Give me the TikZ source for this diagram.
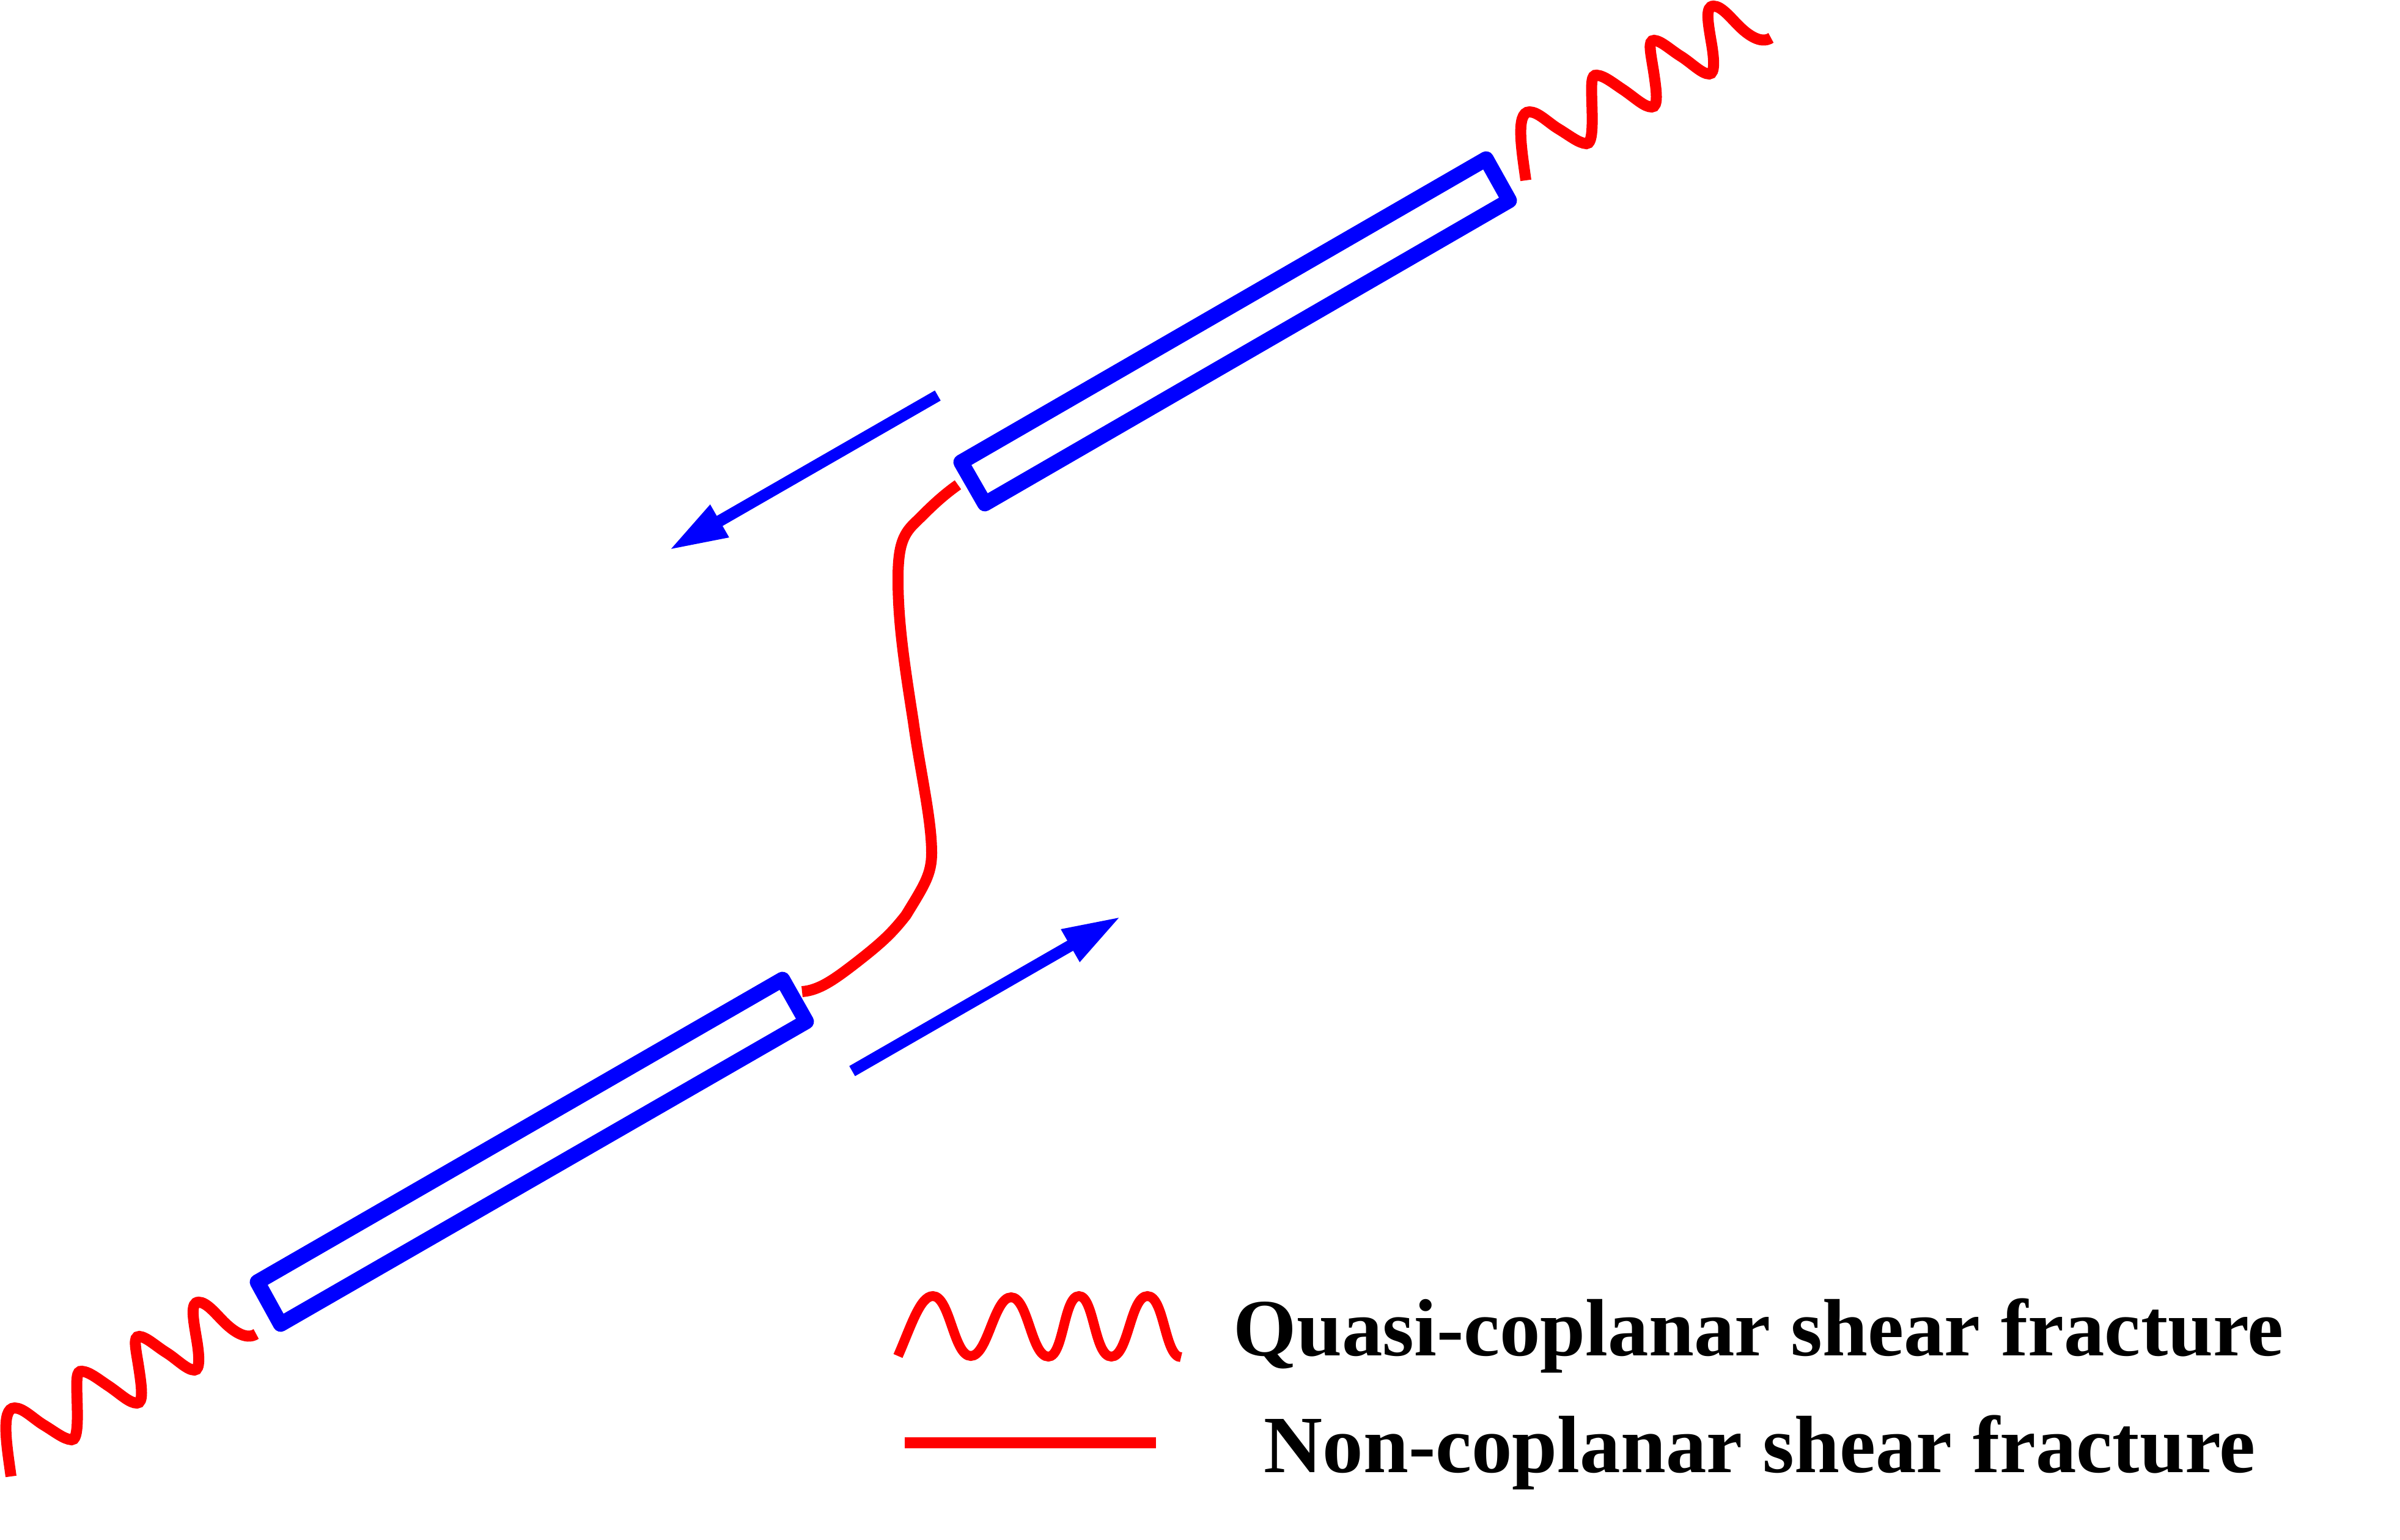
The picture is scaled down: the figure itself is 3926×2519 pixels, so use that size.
\documentclass[tikz,border=0pt]{standalone}
\usepackage{fontspec}
\setmainfont{Liberation Serif}
\usetikzlibrary{arrows.meta}
\tikzset{
    band/.style={draw=blue,line width=0.25cm,line join=round},
    slipdir/.style={draw=blue,line width=0.19cm,-{Triangle[length=0.96cm,width=0.56cm]}},
    quasi/.style={draw=red,line width=0.18cm},
    noncop/.style={draw=red,line width=0.18cm},
    legendtext/.style={inner sep=0pt,font=\fontsize{37.8}{40}\selectfont\bfseries},
}
% One wavy fracture, four crests
\newcommand{\quasiwave}{(2496,295)
    .. controls (2490,250) and (2478,183) .. (2502,183)
    .. controls (2516,183) and (2532,200) .. (2548,210)
    .. controls (2568,222) and (2582,234) .. (2595,235)
    .. controls (2606,236) and (2605,200) .. (2604,167)
    .. controls (2603,135) and (2603,122) .. (2612,123)
    .. controls (2625,124) and (2640,137) .. (2657,148)
    .. controls (2677,162) and (2690,175) .. (2702,175)
    .. controls (2713,175) and (2710,150) .. (2705,117)
    .. controls (2700,85) and (2695,66) .. (2706,66)
    .. controls (2718,67) and (2733,82) .. (2751,93)
    .. controls (2768,104) and (2784,121) .. (2796,121)
    .. controls (2806,121) and (2804,95) .. (2799,67)
    .. controls (2794,37) and (2789,10) .. (2803,10)
    .. controls (2816,10) and (2830,28) .. (2844,42)
    .. controls (2858,56) and (2880,73) .. (2897,62)}
\begin{document}
\begin{tikzpicture}[x=0.01cm,y=-0.01cm]
    \useasboundingbox (0,0) rectangle (3926,2519);

    % Define points
    \coordinate (a1) at (1572,756);
    \coordinate (a2) at (2431,260);
    \coordinate (a3) at (2469,328);
    \coordinate (a4) at (1611,824);
    \coordinate (b1) at (421,2097);
    \coordinate (b2) at (1280,1602);
    \coordinate (b3) at (1319,1671);
    \coordinate (b4) at (459,2166);

    % Draw the two bands
    \draw[band] (a1) -- (a2) -- (a3) -- (a4) -- cycle;
    \draw[band] (b1) -- (b2) -- (b3) -- (b4) -- cycle;

    % Draw the slip arrows
    \coordinate (s1) at (1534,647);
    \coordinate (s2) at (1094,900);
    \coordinate (t1) at (1394,1752);
    \coordinate (t2) at (1834,1499);
    \draw[slipdir] (s1) -- (s2);
    \draw[slipdir] (t1) -- (t2);

    % Wavy fractures at the outer tips
    \draw[quasi] \quasiwave;
    \draw[quasi,shift={(-2478,2120)}] \quasiwave;

    % Curved fracture between the bands
    \draw[noncop] (1567,793)
        .. controls (1540,812) and (1520,832) .. (1500,852)
        .. controls (1478,872) and (1469,890) .. (1469,947)
        .. controls (1469,1020) and (1480,1090) .. (1494,1180)
        .. controls (1505,1260) and (1524,1340) .. (1524,1395)
        .. controls (1524,1430) and (1512,1448) .. (1482,1497)
        .. controls (1460,1525) and (1445,1540) .. (1400,1575)
        .. controls (1365,1602) and (1340,1620) .. (1312,1622);

    % Legend
    \draw[draw=red,line width=0.16cm] (1469,2218)
        .. controls (1490,2170) and (1505,2120) .. (1526,2120)
        .. controls (1554,2120) and (1560,2218) .. (1588,2218)
        .. controls (1616,2218) and (1626,2122) .. (1654,2122)
        .. controls (1682,2122) and (1687,2219) .. (1715,2219)
        .. controls (1740,2219) and (1740,2120) .. (1765,2120)
        .. controls (1790,2120) and (1790,2219) .. (1818,2219)
        .. controls (1846,2219) and (1849,2120) .. (1877,2120)
        .. controls (1905,2120) and (1905,2220) .. (1932,2220);
    \coordinate (n1) at (1480,2360);
    \coordinate (n2) at (1891,2360);
    \draw[noncop] (n1) -- (n2);
    \node[legendtext,anchor=base west] (quasilabel) at (2017,2217) {Quasi-coplanar shear fracture};
    \node[legendtext,anchor=base west] (noncoplabel) at (2067,2408) {Non-coplanar shear fracture};
\end{tikzpicture}
\end{document}
